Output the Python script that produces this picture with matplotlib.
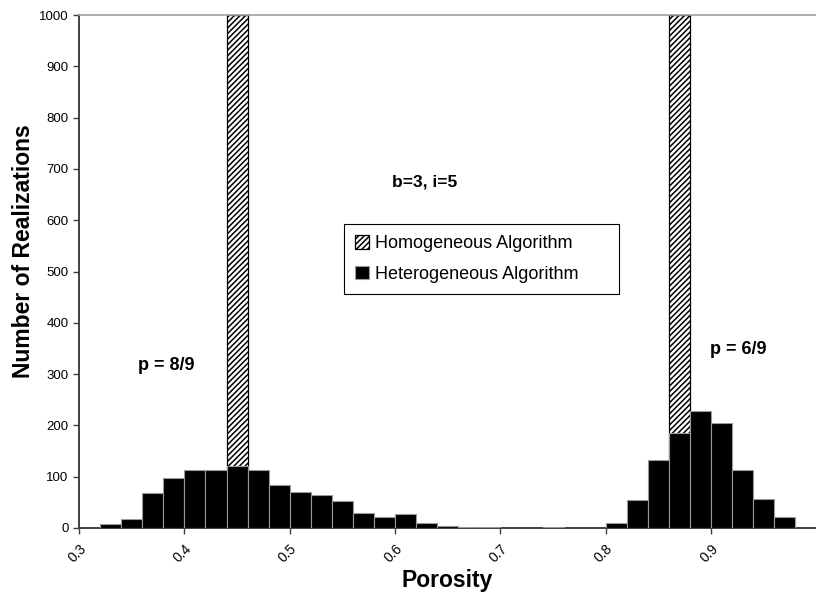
import matplotlib.pyplot as plt
import numpy as np

plt.rcParams['font.family'] = ['Liberation Sans', 'DejaVu Sans']
plt.rcParams['hatch.linewidth'] = 1.1

# left edge of each porosity bin (bin width 0.02)
bin_left = np.round(np.arange(0.32, 0.97, 0.02), 2)
hetero_counts = [7, 17, 68, 97, 113, 114, 121, 114, 84, 71, 65, 53, 30, 22, 27, 10,
                 3, 2, 2, 0, 0, 2, 0, 0, 10, 55, 133, 185, 228, 205, 113, 57, 22]
homo_left = [0.44, 0.86]
homo_counts = [1000, 1000]
bin_width = 0.02

fig = plt.figure(figsize=(8.16, 5.98), dpi=100)
ax = fig.add_axes([79 / 816, 1 - 528 / 598, 1 - 79 / 816, (528 - 15) / 598])

ax.bar(homo_left, homo_counts, width=bin_width, align='edge', color='white',
       edgecolor='black', hatch='//////', linewidth=0.9, label='Homogeneous Algorithm', zorder=2)

# empty bins get no bar at all
counts = np.array(hetero_counts)
filled = counts > 0
ax.bar(bin_left[filled], counts[filled], width=bin_width, align='edge', color='black',
       edgecolor='#9a9a9a', linewidth=0.8, label='Heterogeneous Algorithm', zorder=3)

ax.set_xlim(0.3, 0.9995)
ax.set_ylim(0, 1000)
ax.set_yticks(np.arange(0, 1001, 100))
ax.set_xticks([0.3, 0.4, 0.5, 0.6, 0.7, 0.8, 0.9])
ax.set_xticklabels(['0.3', '0.4', '0.5', '0.6', '0.7', '0.8', '0.9'],
                   rotation=45, ha='right', rotation_mode='anchor')
ax.tick_params(axis='both', labelsize=9.5, length=4, width=1, color='#404040', direction='out')
ax.tick_params(axis='x', labelsize=10, pad=6)

for side in ['left', 'bottom']:
    ax.spines[side].set_color('#404040')
    ax.spines[side].set_linewidth(1.4)
ax.spines['top'].set_color('#a0a0a0')
ax.spines['top'].set_linewidth(1.2)
ax.spines['right'].set_visible(False)

fig.text(24 / 816, 1 - 251 / 598, 'Number of Realizations', rotation=90,
         ha='center', va='center', fontsize=16.5, fontweight='bold')
fig.text(447 / 816, 1 - 580 / 598, 'Porosity', ha='center', va='center',
         fontsize=16.5, fontweight='bold')

fig.text(425 / 816, 1 - 182 / 598, 'b=3, i=5', ha='center', va='center',
         fontsize=12.5, fontweight='bold')
fig.text(166 / 816, 1 - 365 / 598, 'p = 8/9', ha='center', va='center',
         fontsize=13, fontweight='bold')
fig.text(738 / 816, 1 - 350 / 598, 'p = 6/9', ha='center', va='center',
         fontsize=13, fontweight='bold')

leg = ax.legend(loc='upper left', mode='expand',
                bbox_to_anchor=(344 / 816, 1 - 295 / 598, 275 / 816, 71 / 598),
                bbox_transform=fig.transFigure, borderaxespad=0,
                fontsize=13, handlelength=0.8, handleheight=0.8, handletextpad=0.3,
                labelspacing=0.75, borderpad=0.6, fancybox=False, framealpha=1)
leg.get_frame().set_edgecolor('black')
leg.get_frame().set_linewidth(0.8)

plt.savefig('out.png', dpi=100)
